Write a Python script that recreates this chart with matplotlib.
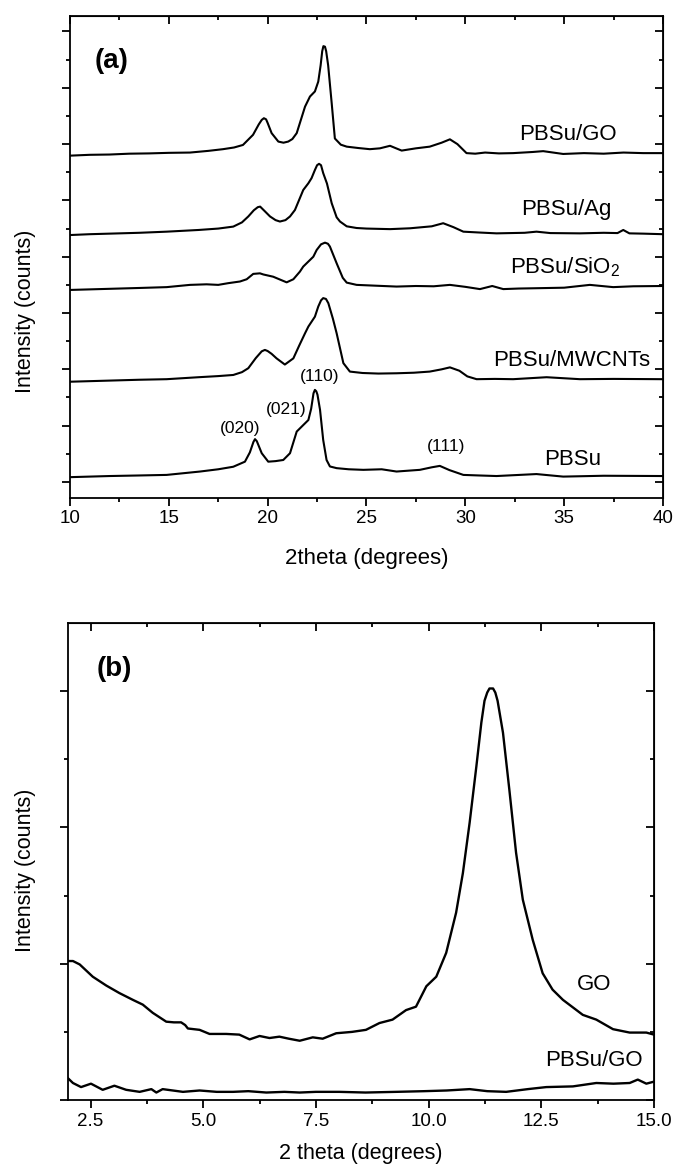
import matplotlib
matplotlib.use('Agg')
import matplotlib.pyplot as plt
from matplotlib.ticker import FixedLocator, FormatStrFormatter

plt.rcParams['font.family'] = ['Liberation Sans', 'DejaVu Sans']
plt.rcParams['mathtext.fontset'] = 'custom'
plt.rcParams['mathtext.rm'] = 'Liberation Sans'
plt.rcParams['mathtext.default'] = 'regular'

# (a) XRD patterns, stacked (y in arbitrary units)
go_x = [10, 11, 12, 13, 14, 15, 16.07, 17, 17.74, 18.3, 18.75, 19.26, 19.55, 19.7, 19.81, 19.92, 20.0, 20.2,
        20.54, 20.8, 21.04, 21.25, 21.47, 21.89, 22.14, 22.39, 22.56, 22.68, 22.76, 22.82, 22.9, 22.96,
        23.06, 23.24, 23.4, 23.7, 24.0, 24.6, 25.17, 25.68, 26.19, 26.5, 26.78, 27.5, 28.2, 28.8, 29.22,
        29.6, 30.06, 30.5, 31.0, 31.7, 32.42, 33.4, 33.94, 34.95, 36.0, 37.0, 38.0, 39.0, 40]
go_y = [11.59, 11.62, 11.63, 11.66, 11.67, 11.69, 11.70, 11.76, 11.82, 11.88, 11.97, 12.33, 12.70, 12.86, 12.92,
        12.88, 12.75, 12.39, 12.09, 12.05, 12.09, 12.18, 12.39, 13.33, 13.69, 13.87, 14.22, 14.8, 15.3,
        15.48, 15.46, 15.3, 14.8, 13.45, 12.2, 11.98, 11.91, 11.86, 11.82, 11.85, 11.94, 11.85, 11.77,
        11.85, 11.91, 12.05, 12.17, 12.0, 11.68, 11.66, 11.70, 11.67, 11.68, 11.72, 11.75, 11.65, 11.68,
        11.66, 11.70, 11.68, 11.68]

ag_x = [10, 11, 12, 13.5, 14.89, 16.5, 17.5, 18.26, 18.7, 19.02, 19.3, 19.5, 19.62, 19.85, 20.12, 20.4,
        20.62, 20.9, 21.13, 21.38, 21.8, 22.06, 22.22, 22.39, 22.5, 22.6, 22.7, 22.81, 23.0, 23.24, 23.49,
        23.66, 24.0, 24.5, 25.0, 26.19, 27.2, 28.3, 28.88, 29.4, 29.9, 30.7, 31.58, 33.0, 33.6, 34.3, 35.8,
        37.0, 37.7, 37.99, 38.3, 39.0, 40]
ag_y = [8.77, 8.80, 8.82, 8.85, 8.89, 8.95, 9.0, 9.07, 9.22, 9.43, 9.65, 9.76, 9.78, 9.62, 9.43, 9.30,
        9.25, 9.30, 9.43, 9.66, 10.37, 10.61, 10.79, 11.08, 11.25, 11.30, 11.25, 10.97, 10.6, 9.9, 9.4,
        9.25, 9.08, 9.02, 9.0, 8.98, 9.01, 9.08, 9.19, 9.05, 8.89, 8.86, 8.83, 8.85, 8.89, 8.84, 8.83,
        8.85, 8.84, 8.95, 8.83, 8.82, 8.80]

sio2_x = [10, 11, 12, 13.5, 14.89, 16.07, 16.91, 17.5, 18.0, 18.6, 18.94, 19.27, 19.61, 19.78, 20.28,
          20.96, 21.3, 21.63, 21.8, 22.31, 22.48, 22.7, 22.9, 23.05, 23.15, 23.5, 23.8, 24.0, 24.5, 25.5,
          26.52, 27.5, 28.4, 29.22, 30.0, 30.74, 31.36, 31.92, 32.7, 33.5, 35.0, 36.3, 37.48, 38.5, 40]
sio2_y = [6.82, 6.84, 6.86, 6.89, 6.92, 7.0, 7.02, 7.0, 7.06, 7.12, 7.20, 7.39, 7.41, 7.37, 7.29,
          7.09, 7.2, 7.47, 7.65, 8.0, 8.24, 8.44, 8.50, 8.46, 8.36, 7.75, 7.25, 7.08, 7.0, 6.97,
          6.94, 6.96, 6.95, 7.0, 6.93, 6.85, 6.96, 6.85, 6.87, 6.88, 6.9, 7.0, 6.92, 6.95, 6.96]

mw_x = [10, 11, 12, 13.5, 14.89, 16.5, 17.5, 18.26, 18.7, 19.02, 19.4, 19.7, 19.86, 20.0, 20.2, 20.45,
        20.87, 21.3, 21.6, 21.89, 22.06, 22.39, 22.56, 22.7, 22.81, 22.95, 23.07, 23.3, 23.49, 23.83,
        24.16, 24.8, 25.6, 26.52, 27.4, 28.2, 28.8, 29.22, 29.7, 30.1, 30.57, 31.5, 32.42, 34.11, 35.8,
        37.5, 40]
mw_y = [3.56, 3.58, 3.60, 3.63, 3.65, 3.72, 3.76, 3.80, 3.90, 4.04, 4.40, 4.64, 4.69, 4.65, 4.55, 4.39,
        4.17, 4.39, 4.85, 5.28, 5.52, 5.87, 6.23, 6.45, 6.53, 6.50, 6.35, 5.8, 5.28, 4.22,
        3.92, 3.87, 3.85, 3.86, 3.88, 3.92, 4.0, 4.07, 3.95, 3.75, 3.65, 3.66, 3.65, 3.72, 3.65,
        3.66, 3.65]

pbsu_x = [10, 11, 12, 13.5, 14.89, 16.58, 17.5, 18.26, 18.85, 19.1, 19.28, 19.36, 19.45, 19.7, 20.03,
          20.4, 20.79, 21.13, 21.47, 21.8, 22.06, 22.2, 22.32, 22.39, 22.46, 22.52, 22.65, 22.81, 22.98,
          23.15, 23.49, 24.1, 24.84, 25.77, 26.52, 27.7, 28.3, 28.71, 29.2, 29.9, 30.7, 31.58, 33.6,
          34.95, 37.0, 40]
pbsu_y = [0.17, 0.19, 0.21, 0.23, 0.25, 0.37, 0.45, 0.54, 0.72, 1.05, 1.42, 1.52, 1.45, 1.02, 0.72,
          0.74, 0.78, 1.02, 1.79, 2.02, 2.20, 2.6, 3.15, 3.27, 3.22, 3.1, 2.56, 1.49, 0.78,
          0.55, 0.49, 0.45, 0.43, 0.45, 0.37, 0.43, 0.52, 0.57, 0.42, 0.25, 0.23, 0.21, 0.28,
          0.19, 0.22, 0.21]

# (b) low angle patterns
b_go_x = [2.0, 2.11, 2.26, 2.55, 2.85, 3.14, 3.44, 3.66, 3.88, 4.18, 4.35, 4.51, 4.6, 4.66, 4.92, 5.14,
          5.51, 5.8, 6.03, 6.25, 6.47, 6.69, 6.9, 7.14, 7.43, 7.65, 7.95, 8.3, 8.61, 8.91, 9.2, 9.5,
          9.72, 9.95, 10.17, 10.39, 10.61, 10.76, 10.91, 11.06, 11.17, 11.24, 11.3, 11.35, 11.43, 11.48,
          11.53, 11.65, 11.79, 11.94, 12.09, 12.31, 12.53, 12.75, 12.98, 13.42, 13.72, 14.09, 14.46,
          14.83, 15.0]
b_go_y = [2.04, 2.04, 1.99, 1.81, 1.68, 1.57, 1.47, 1.40, 1.28, 1.15, 1.14, 1.14, 1.10, 1.05, 1.03, 0.97,
          0.97, 0.96, 0.89, 0.94, 0.91, 0.93, 0.90, 0.87, 0.92, 0.90, 0.98, 1.0, 1.03, 1.13, 1.18, 1.32,
          1.37, 1.67, 1.81, 2.16, 2.75, 3.33, 4.07, 4.90, 5.54, 5.86, 5.98, 6.04, 6.04, 5.98,
          5.86, 5.39, 4.56, 3.63, 2.94, 2.35, 1.86, 1.62, 1.47, 1.25, 1.18, 1.04, 0.99,
          0.99, 0.96]

b_pg_x = [2.0, 2.11, 2.29, 2.51, 2.77, 3.03, 3.29, 3.59, 3.85, 3.96, 4.1, 4.55, 4.92, 5.3, 5.66, 6.0,
          6.4, 6.8, 7.14, 7.5, 8.02, 8.6, 9.28, 9.9, 10.4, 10.91, 11.3, 11.72, 12.2, 12.61, 13.2, 13.72,
          14.1, 14.46, 14.64, 14.83, 15.0]
b_pg_y = [0.32, 0.25, 0.19, 0.24, 0.15, 0.21, 0.15, 0.12, 0.16, 0.11, 0.16, 0.12, 0.14, 0.12, 0.12, 0.13,
          0.11, 0.12, 0.11, 0.12, 0.12, 0.11, 0.12, 0.13, 0.14, 0.16, 0.13, 0.12, 0.16, 0.19, 0.20, 0.25,
          0.24, 0.25, 0.30, 0.24, 0.27]

fig = plt.figure(figsize=(6.75, 11.69), dpi=100)
ax1 = fig.add_axes([0.1037, 0.574, 0.8785, 0.4123])
ax2 = fig.add_axes([0.1007, 0.059, 0.8682, 0.408])


def style_axes(ax):
    for sp in ax.spines.values():
        sp.set_linewidth(1.3)
    ax.tick_params(which='both', direction='out', width=1.3, labelsize=13.5, pad=3)
    ax.tick_params(which='major', length=6)
    ax.tick_params(which='minor', length=3)
    ax.set_yticklabels([])


# panel (a)
for xs, ys in [(go_x, go_y), (ag_x, ag_y), (sio2_x, sio2_y), (mw_x, mw_y), (pbsu_x, pbsu_y)]:
    ax1.plot(xs, ys, color='black', lw=1.5)
ax1.set_xlim(10, 40)
ax1.set_ylim(-0.57, 16.55)
ax1.xaxis.set_major_locator(FixedLocator([10, 15, 20, 25, 30, 35, 40]))
ax1.xaxis.set_minor_locator(FixedLocator([12.5, 17.5, 22.5, 27.5, 32.5, 37.5]))
ax1.yaxis.set_major_locator(FixedLocator(list(range(0, 17, 2))))
ax1.yaxis.set_minor_locator(FixedLocator(list(range(1, 17, 2))))
style_axes(ax1)
ax1.set_xlabel('2theta (degrees)', fontsize=16, labelpad=15)
ax1.set_ylabel('Intensity (counts)', fontsize=15.5)
ax1.yaxis.set_label_coords(-0.058, 0.388)

ax1.text(11.26, 14.7, '(a)', fontsize=20, fontweight='bold')
ax1.text(37.67, 12.15, 'PBSu/GO', fontsize=16, ha='right')
ax1.text(37.40, 9.48, 'PBSu/Ag', fontsize=16, ha='right')
ax1.text(37.82, 7.39, 'PBSu/SiO$_2$', fontsize=16, ha='right')
ax1.text(39.37, 4.12, 'PBSu/MWCNTs', fontsize=16, ha='right')
ax1.text(36.89, 0.60, 'PBSu', fontsize=16, ha='right')
ax1.text(18.6, 1.75, '(020)', fontsize=12.5, ha='center')
ax1.text(20.96, 2.40, '(021)', fontsize=12.5, ha='center')
ax1.text(22.61, 3.59, '(110)', fontsize=12.5, ha='center')
ax1.text(29.03, 1.11, '(111)', fontsize=12.5, ha='center')

# panel (b)
ax2.plot(b_go_x, b_go_y, color='black', lw=1.7)
ax2.plot(b_pg_x, b_pg_y, color='black', lw=1.7)
ax2.set_xlim(2, 15)
ax2.set_ylim(0, 7)
ax2.xaxis.set_major_locator(FixedLocator([2.5, 5.0, 7.5, 10.0, 12.5, 15.0]))
ax2.xaxis.set_minor_locator(FixedLocator([3.75, 6.25, 8.75, 11.25, 13.75]))
ax2.xaxis.set_major_formatter(FormatStrFormatter('%.1f'))
ax2.yaxis.set_major_locator(FixedLocator([0, 2, 4, 6]))
ax2.yaxis.set_minor_locator(FixedLocator([1, 3, 5]))
style_axes(ax2)
ax2.set_xlabel('2 theta (degrees)', fontsize=15.5, labelpad=10)
ax2.set_ylabel('Intensity (counts)', fontsize=15.5)
ax2.yaxis.set_label_coords(-0.055, 0.482)

ax2.text(2.64, 6.22, '(b)', fontsize=20, fontweight='bold')
ax2.text(14.05, 1.62, 'GO', fontsize=16, ha='right')
ax2.text(14.75, 0.50, 'PBSu/GO', fontsize=16, ha='right')

# ticks on top and right point inward like the original
for ax in (ax1, ax2):
    sec_x = ax.secondary_xaxis('top')
    sec_x.set_xticks(ax.get_xticks())
    sec_x.set_xticks(ax.get_xticks(minor=True), minor=True)
    sec_x.tick_params(which='both', direction='in', width=1.3)
    sec_x.tick_params(which='major', length=6)
    sec_x.tick_params(which='minor', length=3)
    sec_x.set_xticklabels([])
    sec_y = ax.secondary_yaxis('right')
    sec_y.set_yticks(ax.get_yticks())
    sec_y.set_yticks(ax.get_yticks(minor=True), minor=True)
    sec_y.tick_params(which='both', direction='in', width=1.3)
    sec_y.tick_params(which='major', length=6)
    sec_y.tick_params(which='minor', length=3)
    sec_y.set_yticklabels([])

fig.savefig('out.png', dpi=100)
